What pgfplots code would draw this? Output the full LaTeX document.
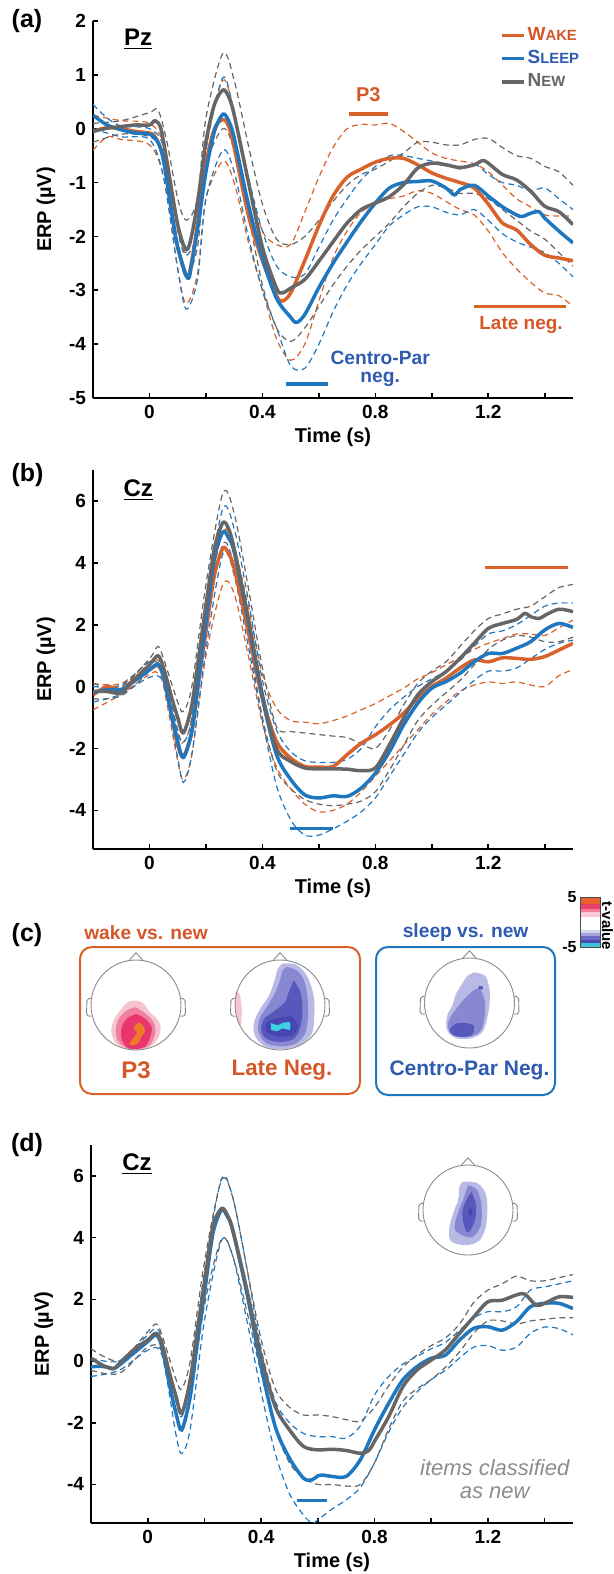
\documentclass[border=0pt]{standalone}
\usepackage{fontspec}
\setmainfont{Liberation Sans}
\usepackage{pgfplots}
\pgfplotsset{compat=1.18}

\definecolor{wake}{HTML}{D9622B}
\definecolor{sleep}{HTML}{1F77C0}
\definecolor{new}{HTML}{666666}
\definecolor{waketxt}{HTML}{D4572A}
\definecolor{sleeptxt}{HTML}{2E5BAF}
\definecolor{itemtxt}{HTML}{8C8C8C}
\definecolor{headc}{HTML}{8A8A8A}
% topography levels
\definecolor{pk1}{HTML}{F6C3D0}
\definecolor{pk2}{HTML}{F0809F}
\definecolor{pk3}{HTML}{E8356E}
\definecolor{pk4}{HTML}{F0782A}
\definecolor{bl1}{HTML}{B9B9E6}
\definecolor{bl2}{HTML}{8888D2}
\definecolor{bl3}{HTML}{5858BC}
\definecolor{bl4}{HTML}{4646B0}
\definecolor{cy}{HTML}{3ED0E0}
% colour bar bands
\definecolor{cb1}{HTML}{EA5F2E}
\definecolor{cb2}{HTML}{E8406A}
\definecolor{cb3}{HTML}{F27A9A}
\definecolor{cb4}{HTML}{F9CAD6}
\definecolor{cb5}{HTML}{D5D5EF}
\definecolor{cb6}{HTML}{A5A5DE}
\definecolor{cb7}{HTML}{6A6AC4}
\definecolor{cb8}{HTML}{4A4AB2}
\definecolor{cb9}{HTML}{3FC4D9}

\pgfplotsset{
  erp/.style={
    scale only axis, width=240pt,
    xmin=-0.2, xmax=1.5,
    axis x line*=bottom, axis y line*=left,
    axis line style={line width=1.1pt, -},
    tick align=inside, major tick length=2.5pt,
    every tick/.style={black, line width=0.8pt},
    xtick={0,0.2,0.4,0.6,0.8,1.0,1.2,1.4},
    xticklabels={0,,0.4,,0.8,,1.2,},
    /pgf/number format/assume math mode=true,
    ticklabel style={font=\fontsize{9.5}{11}\selectfont\bfseries},
    label style={font=\fontsize{10}{12}\selectfont\bfseries},
    xlabel={Time (s)}, ylabel={ERP (µV)},
    x label style={at={(axis description cs:0.5,0)}, anchor=center, yshift=-19.5pt},
    y label style={at={(axis description cs:-0.098,0.5)}, anchor=center},
  },
  mean/.style={line width=1.75pt, smooth, tension=0.5, line join=round},
  ci/.style={line width=0.6pt, dash pattern=on 3pt off 2pt, smooth, tension=0.5, forget plot},
  bar/.style={line width=1.8pt, forget plot},
  topo/.style={scale only axis, hide axis, width=56.25pt, height=56.25pt,
    xmin=-1.25, xmax=1.25, ymin=-1.25, ymax=1.25, clip=false, anchor=center},
  blob/.style={draw=none, smooth, tension=0.55, fill=#1},
  band/.style={draw=none, fill=#1},
}

\newcommand\headoutline{%
  \draw[headc, line width=0.45pt] (axis cs:0,0) circle[radius=22.5pt];
  \draw[headc, line width=0.45pt] (axis cs:-0.16,0.985) -- (axis cs:0,1.16) -- (axis cs:0.16,0.985);
  \draw[headc, line width=0.45pt, rounded corners=1pt] (axis cs:-0.995,0.15) -- (axis cs:-1.09,0.14) -- (axis cs:-1.1,-0.24) -- (axis cs:-0.99,-0.25);
  \draw[headc, line width=0.45pt, rounded corners=1pt] (axis cs:0.995,0.15) -- (axis cs:1.09,0.14) -- (axis cs:1.1,-0.24) -- (axis cs:0.99,-0.25);
}

\begin{document}
\begin{tikzpicture}
\useasboundingbox (0,0) rectangle (307pt,-787pt);

% panel labels
\node[font=\fontsize{12.5}{14}\selectfont\bfseries] at (13.5pt,-10.5pt) {(a)};
\node[font=\fontsize{12.5}{14}\selectfont\bfseries] at (13.75pt,-237.5pt) {(b)};
\node[font=\fontsize{12.5}{14}\selectfont\bfseries] at (13.5pt,-467.5pt) {(c)};
\node[font=\fontsize{12.5}{14}\selectfont\bfseries] at (13.5pt,-572.5pt) {(d)};

%================ (a) Pz
\begin{axis}[erp, at={(46.5pt,-199pt)}, anchor=south west, height=188.5pt,
  ymin=-5, ymax=2, ytick={-5,-4,-3,-2,-1,0,1,2},
  legend style={at={(rel axis cs:1.03,1.0)}, anchor=north east, draw=none, fill=none,
    font=\fontsize{9.5}{11}\selectfont\bfseries, row sep=1.5pt, nodes={inner sep=1pt}},
  legend cell align=left,
  legend image code/.code={\draw[#1, line width=1.75pt] (0pt,0pt) -- (11pt,0pt);},
]
% wake bounds
\addplot[ci, wake] coordinates {(-0.2,0.25)(-0.1,0.15)(0,0.1)(0.05,-0.3)(0.1,-1.8)(0.13,-2.3)(0.17,-1.5)(0.2,-0.25)(0.26,0.9)(0.3,0.3)(0.35,-1.0)(0.4,-1.9)(0.45,-2.15)(0.5,-2.15)(0.55,-1.55)(0.6,-0.9)(0.65,-0.35)(0.7,0.0)(0.75,0.08)(0.8,0.07)(0.85,0.1)(0.9,-0.05)(0.95,-0.25)(1.0,-0.45)(1.05,-0.55)(1.1,-0.6)(1.15,-0.65)(1.2,-0.8)(1.25,-1.05)(1.3,-1.3)(1.35,-1.45)(1.4,-1.6)(1.45,-1.62)(1.5,-1.62)};
\addplot[ci, wake] coordinates {(-0.2,-0.4)(-0.15,-0.15)(-0.1,-0.2)(0,-0.3)(0.05,-0.9)(0.1,-2.6)(0.13,-3.25)(0.17,-2.7)(0.2,-1.3)(0.26,-0.6)(0.3,-1.0)(0.35,-2.1)(0.4,-3.0)(0.45,-3.9)(0.5,-4.3)(0.55,-4.0)(0.6,-3.2)(0.65,-2.4)(0.7,-1.9)(0.75,-1.55)(0.8,-1.4)(0.85,-1.3)(0.9,-1.25)(0.95,-1.15)(1.0,-1.2)(1.05,-1.35)(1.1,-1.5)(1.15,-1.6)(1.2,-1.9)(1.25,-2.3)(1.3,-2.6)(1.35,-2.85)(1.4,-3.05)(1.45,-3.1)(1.5,-3.3)};
% sleep bounds
\addplot[ci, sleep] coordinates {(-0.2,0.45)(-0.15,0.2)(-0.1,0.05)(0,0.0)(0.05,-0.35)(0.1,-1.9)(0.13,-2.35)(0.17,-1.9)(0.2,-0.4)(0.26,0.95)(0.3,0.3)(0.35,-0.9)(0.4,-1.9)(0.45,-2.55)(0.5,-2.75)(0.55,-2.7)(0.6,-2.2)(0.65,-1.7)(0.7,-1.3)(0.75,-0.95)(0.8,-0.7)(0.85,-0.5)(0.9,-0.5)(0.95,-0.55)(1.0,-0.6)(1.05,-0.65)(1.1,-0.75)(1.15,-0.65)(1.2,-0.85)(1.25,-1.0)(1.3,-1.05)(1.35,-1.15)(1.4,-1.1)(1.45,-1.3)(1.5,-1.5)};
\addplot[ci, sleep] coordinates {(-0.2,0.0)(-0.1,-0.15)(0,-0.2)(0.05,-0.9)(0.1,-2.6)(0.13,-3.35)(0.17,-2.8)(0.2,-1.3)(0.26,-0.4)(0.3,-0.8)(0.35,-2.0)(0.4,-3.0)(0.45,-3.7)(0.5,-4.4)(0.55,-4.45)(0.6,-4.0)(0.65,-3.4)(0.7,-2.9)(0.75,-2.5)(0.8,-2.15)(0.85,-1.8)(0.9,-1.6)(0.95,-1.45)(1.0,-1.45)(1.05,-1.55)(1.1,-1.6)(1.15,-1.5)(1.2,-1.7)(1.25,-1.95)(1.3,-2.1)(1.35,-2.2)(1.4,-2.3)(1.45,-2.5)(1.5,-2.75)};
% new bounds
\addplot[ci, new] coordinates {(-0.2,0.1)(-0.1,0.15)(0,0.3)(0.03,0.35)(0.06,-0.2)(0.1,-1.3)(0.13,-1.7)(0.17,-1.3)(0.2,0.2)(0.26,1.4)(0.3,0.9)(0.35,-0.3)(0.4,-1.4)(0.45,-2.05)(0.5,-2.15)(0.55,-2.0)(0.6,-1.7)(0.65,-1.35)(0.7,-1.05)(0.75,-0.85)(0.8,-0.75)(0.85,-0.6)(0.9,-0.45)(0.95,-0.25)(1.0,-0.25)(1.05,-0.3)(1.1,-0.3)(1.15,-0.2)(1.2,-0.18)(1.25,-0.35)(1.3,-0.5)(1.35,-0.55)(1.4,-0.7)(1.45,-0.8)(1.5,-1.05)};
\addplot[ci, new] coordinates {(-0.2,-0.25)(-0.1,-0.1)(0,-0.15)(0.05,-0.5)(0.1,-2.2)(0.13,-2.75)(0.17,-2.2)(0.2,-0.7)(0.26,0.0)(0.3,-0.4)(0.35,-1.6)(0.4,-2.9)(0.45,-3.7)(0.5,-3.95)(0.55,-3.7)(0.6,-3.3)(0.65,-2.9)(0.7,-2.55)(0.75,-2.25)(0.8,-2.0)(0.85,-1.75)(0.9,-1.45)(0.95,-1.2)(1.0,-1.05)(1.05,-1.1)(1.1,-1.2)(1.15,-1.2)(1.2,-1.3)(1.25,-1.5)(1.3,-1.7)(1.35,-1.9)(1.4,-2.05)(1.45,-2.3)(1.5,-2.55)};
% means
\addplot[mean, wake] coordinates {(-0.2,-0.05)(-0.15,0.02)(-0.1,0.0)(-0.05,-0.05)(0,-0.08)(0.02,-0.15)(0.05,-0.55)(0.08,-1.6)(0.1,-2.2)(0.133,-2.75)(0.15,-2.45)(0.175,-1.6)(0.2,-0.65)(0.23,0.0)(0.26,0.17)(0.28,0.05)(0.3,-0.35)(0.35,-1.6)(0.4,-2.45)(0.45,-3.1)(0.47,-3.2)(0.5,-3.05)(0.55,-2.45)(0.6,-1.8)(0.65,-1.25)(0.7,-0.9)(0.75,-0.75)(0.8,-0.62)(0.85,-0.55)(0.9,-0.55)(0.95,-0.67)(1.0,-0.82)(1.05,-0.92)(1.1,-1.0)(1.15,-1.1)(1.2,-1.4)(1.25,-1.75)(1.3,-1.88)(1.35,-2.15)(1.4,-2.35)(1.45,-2.4)(1.5,-2.45)};
\addlegendentry{\textcolor{waketxt}{W{\fontsize{7.4}{8}\selectfont AKE}}}
\addplot[mean, sleep] coordinates {(-0.2,0.25)(-0.15,0.07)(-0.1,-0.02)(-0.05,-0.08)(0,-0.1)(0.03,-0.25)(0.05,-0.6)(0.08,-1.6)(0.1,-2.2)(0.135,-2.78)(0.15,-2.5)(0.175,-1.7)(0.2,-0.8)(0.23,-0.05)(0.26,0.27)(0.28,0.15)(0.3,-0.17)(0.35,-1.4)(0.4,-2.4)(0.45,-3.15)(0.5,-3.5)(0.52,-3.6)(0.55,-3.45)(0.6,-2.95)(0.65,-2.5)(0.7,-2.1)(0.75,-1.72)(0.8,-1.38)(0.85,-1.1)(0.9,-1.0)(0.95,-0.98)(1.0,-0.97)(1.05,-1.1)(1.08,-1.23)(1.1,-1.13)(1.15,-1.05)(1.2,-1.25)(1.25,-1.45)(1.3,-1.6)(1.32,-1.63)(1.35,-1.57)(1.38,-1.54)(1.4,-1.66)(1.45,-1.9)(1.5,-2.12)};
\addlegendentry{\textcolor{sleeptxt}{S{\fontsize{7.4}{8}\selectfont LEEP}}}
\addplot[mean, new] coordinates {(-0.2,-0.05)(-0.15,0.01)(-0.1,0.04)(-0.05,0.07)(0,0.07)(0.02,0.15)(0.04,0.01)(0.06,-0.55)(0.1,-1.78)(0.13,-2.25)(0.15,-1.97)(0.175,-1.2)(0.2,-0.24)(0.23,0.45)(0.26,0.72)(0.28,0.6)(0.3,0.26)(0.35,-0.98)(0.4,-2.2)(0.45,-2.96)(0.47,-3.05)(0.5,-2.96)(0.55,-2.8)(0.6,-2.46)(0.65,-2.1)(0.7,-1.75)(0.75,-1.5)(0.8,-1.38)(0.85,-1.26)(0.9,-1.04)(0.95,-0.73)(1.0,-0.64)(1.05,-0.67)(1.1,-0.72)(1.15,-0.67)(1.18,-0.59)(1.2,-0.64)(1.25,-0.85)(1.3,-0.95)(1.35,-1.16)(1.4,-1.44)(1.45,-1.54)(1.5,-1.78)};
\addlegendentry{\textcolor{new}{N{\fontsize{7.4}{8}\selectfont EW}}}
% significance bars
\addplot[bar, wake] coordinates {(0.707,0.27)(0.846,0.27)};
\addplot[bar, wake] coordinates {(1.15,-3.3)(1.476,-3.3)};
\addplot[bar, sleep] coordinates {(0.482,-4.74)(0.633,-4.74)};
\node[font=\fontsize{12}{14}\selectfont\bfseries] at (axis cs:-0.04,1.66) {\underline{Pz}};
\node[font=\fontsize{10}{12}\selectfont\bfseries, text=waketxt] at (axis cs:0.775,0.63) {P3};
\node[font=\fontsize{9.5}{11}\selectfont\bfseries, text=waketxt] at (axis cs:1.316,-3.64) {Late neg.};
\node[font=\fontsize{9.6}{11}\selectfont\bfseries, text=sleeptxt] at (axis cs:0.817,-4.26) {Centro-Par};
\node[font=\fontsize{9.6}{11}\selectfont\bfseries, text=sleeptxt] at (axis cs:0.817,-4.66) {neg.};
\end{axis}

%================ (b) Cz
\begin{axis}[erp, at={(46.5pt,-424.5pt)}, anchor=south west, height=189.5pt,
  ymin=-5.25, ymax=7, ytick={-4,-2,0,2,4,6}]
\addplot[ci, wake] coordinates {(-0.2,0.1)(-0.1,0.1)(0,0.8)(0.03,0.85)(0.05,0.5)(0.1,-1.5)(0.12,-1.8)(0.15,-1.0)(0.2,2.4)(0.26,5.0)(0.3,4.5)(0.35,2.6)(0.4,0.4)(0.45,-0.7)(0.5,-1.1)(0.55,-1.15)(0.6,-1.2)(0.65,-1.1)(0.7,-0.95)(0.75,-0.75)(0.8,-0.55)(0.85,-0.3)(0.9,-0.05)(0.95,0.25)(1.0,0.45)(1.05,0.7)(1.1,0.95)(1.15,1.2)(1.2,1.4)(1.25,1.55)(1.3,1.7)(1.35,1.7)(1.4,1.65)(1.45,1.9)(1.5,2.15)};
\addplot[ci, wake] coordinates {(-0.2,-0.75)(-0.1,-0.25)(0,0.4)(0.03,0.45)(0.05,0.0)(0.1,-2.4)(0.12,-3.0)(0.15,-2.2)(0.2,1.0)(0.26,3.3)(0.3,3.0)(0.35,1.0)(0.4,-1.2)(0.45,-2.6)(0.5,-3.3)(0.55,-3.8)(0.6,-4.05)(0.65,-4.0)(0.7,-3.8)(0.75,-3.4)(0.8,-2.9)(0.85,-2.4)(0.9,-1.9)(0.95,-1.4)(1.0,-0.9)(1.05,-0.5)(1.1,-0.15)(1.15,0.05)(1.2,0.15)(1.25,0.1)(1.3,0.15)(1.35,0.05)(1.4,0.0)(1.45,0.35)(1.5,0.55)};
\addplot[ci, sleep] coordinates {(-0.2,0.0)(-0.1,0.05)(0,0.8)(0.05,0.5)(0.1,-1.4)(0.12,-1.8)(0.15,-1.0)(0.2,2.8)(0.26,5.75)(0.3,5.1)(0.35,2.8)(0.4,0.2)(0.45,-1.4)(0.5,-2.1)(0.55,-2.4)(0.6,-2.45)(0.65,-2.45)(0.7,-2.35)(0.75,-2.0)(0.8,-1.3)(0.85,-0.75)(0.9,-0.35)(0.95,0.0)(1.0,0.25)(1.05,0.5)(1.1,0.85)(1.15,1.3)(1.2,1.7)(1.25,1.8)(1.3,2.0)(1.35,2.3)(1.4,2.6)(1.45,2.7)(1.5,2.7)};
\addplot[ci, sleep] coordinates {(-0.2,-0.5)(-0.1,-0.25)(0,0.3)(0.05,0.1)(0.1,-2.3)(0.12,-3.1)(0.15,-2.2)(0.2,1.2)(0.26,4.3)(0.3,3.6)(0.35,1.3)(0.4,-1.1)(0.45,-3.2)(0.5,-4.3)(0.55,-4.8)(0.6,-4.8)(0.65,-4.6)(0.7,-4.35)(0.75,-4.05)(0.8,-3.6)(0.85,-2.9)(0.9,-2.2)(0.95,-1.5)(1.0,-1.0)(1.05,-0.6)(1.1,-0.2)(1.15,0.2)(1.2,0.5)(1.25,0.5)(1.3,0.6)(1.35,0.9)(1.4,1.2)(1.45,1.4)(1.5,1.5)};
\addplot[ci, new] coordinates {(-0.2,0.1)(-0.1,0.0)(0,0.9)(0.03,1.3)(0.05,0.9)(0.1,-0.5)(0.12,-0.8)(0.15,0.0)(0.2,3.3)(0.26,6.25)(0.3,5.6)(0.35,3.2)(0.4,0.6)(0.45,-1.3)(0.5,-1.45)(0.55,-1.5)(0.6,-1.55)(0.65,-1.6)(0.7,-1.65)(0.75,-1.85)(0.8,-2.0)(0.85,-1.4)(0.9,-0.6)(0.95,0.1)(1.0,0.5)(1.05,0.8)(1.1,1.3)(1.15,1.8)(1.2,2.2)(1.25,2.35)(1.3,2.5)(1.35,2.6)(1.4,2.9)(1.45,3.2)(1.5,3.3)};
\addplot[ci, new] coordinates {(-0.2,-0.4)(-0.1,-0.3)(0,0.5)(0.03,0.75)(0.05,0.3)(0.1,-1.6)(0.12,-2.2)(0.15,-1.3)(0.2,2.0)(0.26,4.6)(0.3,3.9)(0.35,1.6)(0.4,-1.0)(0.45,-2.7)(0.5,-3.3)(0.55,-3.65)(0.6,-3.8)(0.65,-3.85)(0.7,-3.8)(0.75,-3.7)(0.8,-3.4)(0.85,-2.7)(0.9,-1.9)(0.95,-1.1)(1.0,-0.6)(1.05,-0.2)(1.1,0.2)(1.15,0.7)(1.2,1.2)(1.25,1.5)(1.3,1.65)(1.35,1.6)(1.4,1.45)(1.45,1.45)(1.5,1.6)};
\addplot[mean, wake] coordinates {(-0.2,-0.27)(-0.15,0.0)(-0.1,-0.1)(-0.05,0.27)(0,0.55)(0.03,0.68)(0.05,0.3)(0.08,-1.0)(0.1,-1.9)(0.12,-2.26)(0.15,-1.45)(0.175,0.2)(0.2,1.77)(0.23,3.6)(0.26,4.48)(0.28,4.3)(0.3,3.82)(0.35,1.77)(0.4,-0.38)(0.45,-1.77)(0.5,-2.31)(0.55,-2.58)(0.6,-2.6)(0.65,-2.58)(0.7,-2.2)(0.75,-1.83)(0.8,-1.56)(0.85,-1.24)(0.9,-0.86)(0.95,-0.38)(1.0,0.0)(1.05,0.27)(1.1,0.6)(1.15,0.86)(1.2,0.8)(1.25,0.93)(1.3,0.91)(1.35,0.88)(1.4,0.97)(1.45,1.18)(1.5,1.4)};
\addplot[mean, sleep] coordinates {(-0.2,-0.2)(-0.15,-0.1)(-0.1,-0.1)(-0.05,0.2)(0,0.54)(0.03,0.72)(0.05,0.32)(0.08,-1.0)(0.1,-1.77)(0.12,-2.3)(0.15,-1.45)(0.175,0.3)(0.2,2.1)(0.23,4.14)(0.26,5.0)(0.28,4.8)(0.3,4.35)(0.35,2.1)(0.4,-0.38)(0.45,-2.2)(0.5,-3.0)(0.55,-3.5)(0.6,-3.6)(0.65,-3.53)(0.7,-3.55)(0.75,-3.28)(0.8,-2.8)(0.85,-2.1)(0.9,-1.24)(0.95,-0.54)(1.0,-0.05)(1.05,0.16)(1.1,0.43)(1.15,0.8)(1.2,1.07)(1.25,1.07)(1.3,1.24)(1.35,1.45)(1.4,1.83)(1.45,2.04)(1.5,1.91)};
\addplot[mean, new] coordinates {(-0.2,-0.16)(-0.15,-0.16)(-0.1,-0.2)(-0.05,0.27)(0,0.7)(0.03,1.0)(0.05,0.6)(0.08,-0.4)(0.1,-1.0)(0.12,-1.5)(0.15,-0.6)(0.175,1.0)(0.2,2.63)(0.23,4.46)(0.26,5.3)(0.28,5.1)(0.3,4.46)(0.35,2.2)(0.4,-0.27)(0.45,-2.0)(0.5,-2.42)(0.55,-2.63)(0.6,-2.66)(0.65,-2.66)(0.7,-2.67)(0.75,-2.72)(0.8,-2.63)(0.85,-1.88)(0.9,-1.02)(0.95,-0.27)(1.0,0.16)(1.05,0.48)(1.1,0.91)(1.15,1.4)(1.2,1.88)(1.25,2.04)(1.3,2.17)(1.33,2.37)(1.35,2.26)(1.38,2.2)(1.4,2.3)(1.45,2.5)(1.5,2.42)};
\addplot[bar, wake] coordinates {(1.19,3.85)(1.484,3.85)};
\addplot[bar, sleep] coordinates {(0.497,-4.59)(0.65,-4.59)};
\node[font=\fontsize{12}{14}\selectfont\bfseries] at (axis cs:-0.04,6.35) {\underline{Cz}};
\end{axis}

%================ (c) topographies
\node[font=\fontsize{9.6}{11}\selectfont\bfseries, text=waketxt] at (73pt,-466.5pt) {wake vs. new};
\node[font=\fontsize{9.6}{11}\selectfont\bfseries, text=sleeptxt] at (232.8pt,-466.5pt) {sleep vs. new};
\draw[wake, line width=1pt, rounded corners=6pt] (40pt,-473.5pt) rectangle (180pt,-547pt);
\draw[sleep, line width=1pt, rounded corners=6pt] (188pt,-473.5pt) rectangle (277.5pt,-547.5pt);
\node[font=\fontsize{12}{14}\selectfont\bfseries, text=waketxt] at (68pt,-535pt) {P3};
\node[font=\fontsize{11.2}{13}\selectfont\bfseries, text=waketxt] at (141pt,-535pt) {Late Neg.};
\node[font=\fontsize{10.5}{12}\selectfont\bfseries, text=sleeptxt] at (234.75pt,-535pt) {Centro-Par Neg.};

% P3 map
\begin{axis}[topo, at={(68pt,-502.5pt)}]
\addplot[blob=pk1] coordinates {(-0.05,0.1)(0.15,0.05)(0.3,-0.15)(0.5,-0.35)(0.55,-0.55)(0.45,-0.8)(0.25,-0.96)(0,-0.99)(-0.25,-0.96)(-0.45,-0.85)(-0.55,-0.6)(-0.5,-0.35)(-0.35,-0.12)(-0.2,0.05)(-0.05,0.1)};
\addplot[blob=pk2] coordinates {(-0.02,-0.05)(0.2,-0.18)(0.4,-0.4)(0.42,-0.65)(0.3,-0.9)(0.05,-0.98)(-0.2,-0.96)(-0.4,-0.8)(-0.45,-0.55)(-0.38,-0.3)(-0.2,-0.12)(-0.02,-0.05)};
\addplot[blob=pk3] coordinates {(0.0,-0.2)(0.2,-0.3)(0.35,-0.5)(0.3,-0.75)(0.2,-0.92)(0.0,-0.98)(-0.2,-0.94)(-0.32,-0.75)(-0.32,-0.5)(-0.2,-0.3)(0.0,-0.2)};
\addplot[blob=pk4] coordinates {(0.05,-0.38)(0.15,-0.45)(0.2,-0.58)(0.12,-0.7)(0.05,-0.85)(-0.08,-0.9)(-0.15,-0.85)(-0.05,-0.72)(0.02,-0.62)(-0.05,-0.5)(0.05,-0.38)};
\headoutline
\end{axis}

% Late negativity map
\begin{axis}[topo, at={(140pt,-502.5pt)}]
\addplot[blob=pk1] coordinates {(-0.99,0.3)(-0.9,0.25)(-0.85,-0.1)(-0.87,-0.45)(-0.96,-0.3)(-0.995,0.0)(-0.99,0.3)};
\addplot[blob=bl1] coordinates {(0.05,0.92)(0.35,0.9)(0.6,0.65)(0.75,0.2)(0.76,-0.3)(0.7,-0.65)(0.45,-0.88)(0.1,-0.98)(-0.3,-0.94)(-0.55,-0.7)(-0.58,-0.4)(-0.45,-0.1)(-0.25,0.2)(-0.12,0.55)(-0.05,0.8)(0.05,0.92)};
\addplot[blob=bl2] coordinates {(0.15,0.85)(0.4,0.75)(0.55,0.5)(0.62,0.1)(0.62,-0.3)(0.55,-0.65)(0.35,-0.85)(0.05,-0.92)(-0.3,-0.85)(-0.48,-0.6)(-0.45,-0.3)(-0.3,-0.05)(-0.12,0.25)(0.0,0.55)(0.05,0.75)(0.15,0.85)};
\addplot[blob=bl3] coordinates {(0.3,0.55)(0.45,0.3)(0.5,-0.1)(0.45,-0.5)(0.3,-0.75)(0.0,-0.82)(-0.3,-0.75)(-0.42,-0.55)(-0.35,-0.3)(-0.15,-0.15)(0.1,0.05)(0.2,0.3)(0.3,0.55)};
\addplot[blob=bl4] coordinates {(0.25,-0.25)(0.4,-0.45)(0.3,-0.65)(0.0,-0.7)(-0.3,-0.6)(-0.3,-0.4)(-0.1,-0.3)(0.25,-0.25)};
\addplot[blob=cy, tension=0.3] coordinates {(-0.2,-0.4)(-0.05,-0.45)(0.05,-0.4)(0.22,-0.38)(0.22,-0.55)(0.05,-0.52)(-0.05,-0.58)(-0.2,-0.55)(-0.2,-0.4)};
\headoutline
\end{axis}

% Centro-parietal map
\begin{axis}[topo, at={(234.75pt,-501.5pt)}]
\addplot[blob=bl1] coordinates {(0.1,0.68)(0.35,0.6)(0.45,0.25)(0.42,-0.2)(0.3,-0.62)(0.05,-0.78)(-0.3,-0.78)(-0.5,-0.6)(-0.5,-0.3)(-0.38,-0.05)(-0.3,0.2)(-0.15,0.45)(-0.05,0.6)(0.1,0.68)};
\addplot[blob=bl2] coordinates {(0.22,0.35)(0.34,0.05)(0.33,-0.35)(0.22,-0.65)(-0.1,-0.76)(-0.42,-0.68)(-0.47,-0.42)(-0.33,-0.18)(-0.15,0.05)(0.05,0.25)(0.22,0.35)};
\addplot[blob=bl3] coordinates {(0.1,-0.5)(0.05,-0.72)(-0.3,-0.74)(-0.44,-0.6)(-0.3,-0.46)(-0.05,-0.45)(0.1,-0.5)};
\addplot[blob=bl3] coordinates {(0.22,0.38)(0.3,0.36)(0.28,0.3)(0.2,0.32)(0.22,0.38)};
\headoutline
\end{axis}

% colour bar
\begin{axis}[scale only axis, hide axis, width=10pt, height=25pt, xmin=0, xmax=1, ymin=-5, ymax=5,
  at={(290pt,-473.5pt)}, anchor=south west, clip=false]
\addplot[band=cb1] coordinates {(0,3.6)(1,3.6)(1,5)(0,5)} -- cycle;
\addplot[band=cb2] coordinates {(0,2.6)(1,2.6)(1,3.6)(0,3.6)} -- cycle;
\addplot[band=cb3] coordinates {(0,2.0)(1,2.0)(1,2.6)(0,2.6)} -- cycle;
\addplot[band=cb4] coordinates {(0,1.0)(1,1.0)(1,2.0)(0,2.0)} -- cycle;
\addplot[band=cb5] coordinates {(0,-2.2)(1,-2.2)(1,-1.5)(0,-1.5)} -- cycle;
\addplot[band=cb6] coordinates {(0,-2.8)(1,-2.8)(1,-2.2)(0,-2.2)} -- cycle;
\addplot[band=cb7] coordinates {(0,-3.5)(1,-3.5)(1,-2.8)(0,-2.8)} -- cycle;
\addplot[band=cb8] coordinates {(0,-4.2)(1,-4.2)(1,-3.5)(0,-3.5)} -- cycle;
\addplot[band=cb9] coordinates {(0,-5)(1,-5)(1,-4.2)(0,-4.2)} -- cycle;
\draw[line width=0.5pt, black!70] (rel axis cs:0,0) rectangle (rel axis cs:1,1);
\node[font=\fontsize{8}{9}\selectfont\bfseries, anchor=east, inner sep=1pt] at (rel axis cs:-0.05,1) {5};
\node[font=\fontsize{8}{9}\selectfont\bfseries, anchor=east, inner sep=1pt] at (rel axis cs:-0.05,0) {-5};
\node[font=\fontsize{7.5}{9}\selectfont\bfseries, rotate=-90] at (rel axis cs:1.38,0.42) {t-value};
\end{axis}

%================ (d) Cz, items classified as new
\begin{axis}[erp, at={(45.5pt,-761.5pt)}, anchor=south west, width=241pt, height=189pt,
  ymin=-5.25, ymax=7, ytick={-4,-2,0,2,4,6}]
\addplot[ci, sleep] coordinates {(-0.2,0.1)(-0.1,0.0)(0,0.85)(0.03,1.05)(0.05,0.7)(0.1,-1.3)(0.12,-1.8)(0.15,-0.7)(0.2,2.9)(0.26,5.9)(0.3,5.3)(0.35,3.0)(0.4,0.4)(0.45,-1.3)(0.5,-2.0)(0.55,-2.35)(0.6,-2.45)(0.65,-2.45)(0.7,-2.5)(0.75,-2.1)(0.8,-1.1)(0.85,-0.5)(0.9,-0.1)(0.95,0.15)(1.0,0.4)(1.05,0.6)(1.1,1.0)(1.15,1.4)(1.2,1.6)(1.25,1.6)(1.3,1.75)(1.35,2.3)(1.4,2.4)(1.45,2.5)(1.5,2.6)};
\addplot[ci, sleep] coordinates {(-0.2,-0.5)(-0.1,-0.3)(0,0.35)(0.05,0.2)(0.1,-2.4)(0.12,-3.0)(0.15,-2.2)(0.2,1.3)(0.26,3.9)(0.3,3.4)(0.35,1.3)(0.4,-1.0)(0.45,-3.0)(0.5,-4.3)(0.55,-5.0)(0.58,-5.25)(0.6,-5.15)(0.65,-4.8)(0.7,-4.5)(0.75,-4.1)(0.8,-3.3)(0.85,-2.3)(0.9,-1.5)(0.95,-1.0)(1.0,-0.6)(1.05,-0.3)(1.1,0.1)(1.15,0.45)(1.2,0.5)(1.25,0.35)(1.3,0.45)(1.35,0.9)(1.4,1.1)(1.45,1.05)(1.5,0.85)};
\addplot[ci, new] coordinates {(-0.2,0.4)(-0.1,0.0)(0,0.95)(0.03,1.2)(0.05,0.85)(0.1,-0.6)(0.12,-0.9)(0.15,0.0)(0.2,3.2)(0.26,5.85)(0.3,5.3)(0.35,3.0)(0.4,0.7)(0.45,-0.9)(0.5,-1.5)(0.55,-1.75)(0.6,-1.75)(0.65,-1.8)(0.7,-1.9)(0.75,-1.95)(0.8,-1.5)(0.85,-0.8)(0.9,-0.2)(0.95,0.2)(1.0,0.5)(1.05,0.75)(1.1,1.2)(1.15,1.9)(1.2,2.3)(1.25,2.5)(1.3,2.75)(1.35,2.6)(1.4,2.6)(1.45,2.7)(1.5,2.8)};
\addplot[ci, new] coordinates {(-0.2,-0.3)(-0.1,-0.4)(0,0.45)(0.05,0.3)(0.1,-1.8)(0.12,-2.3)(0.15,-1.3)(0.2,1.8)(0.26,3.95)(0.3,3.4)(0.35,1.6)(0.4,-0.4)(0.45,-2.2)(0.5,-3.3)(0.55,-3.8)(0.6,-4.0)(0.65,-4.0)(0.7,-4.05)(0.75,-4.0)(0.8,-3.3)(0.85,-2.2)(0.9,-1.3)(0.95,-0.9)(1.0,-0.6)(1.05,-0.2)(1.1,0.3)(1.15,0.9)(1.2,1.3)(1.25,1.3)(1.3,1.2)(1.35,1.3)(1.4,1.35)(1.45,1.4)(1.5,1.4)};
\addplot[mean, sleep] coordinates {(-0.2,-0.18)(-0.15,-0.18)(-0.12,-0.24)(-0.1,-0.13)(-0.05,0.25)(0,0.63)(0.03,0.84)(0.05,0.46)(0.08,-0.9)(0.1,-1.7)(0.12,-2.23)(0.15,-1.15)(0.175,0.6)(0.2,2.19)(0.23,4.13)(0.26,4.89)(0.28,4.7)(0.3,4.24)(0.35,2.19)(0.4,-0.18)(0.45,-2.13)(0.5,-3.15)(0.55,-3.8)(0.58,-3.85)(0.6,-3.72)(0.62,-3.7)(0.65,-3.74)(0.7,-3.74)(0.75,-3.2)(0.8,-2.23)(0.85,-1.37)(0.9,-0.61)(0.95,-0.18)(1.0,0.09)(1.05,0.19)(1.1,0.68)(1.15,1.06)(1.2,1.11)(1.25,1.0)(1.3,1.27)(1.35,1.76)(1.4,1.87)(1.45,1.87)(1.5,1.7)};
\addplot[mean, new] coordinates {(-0.2,0.09)(-0.15,-0.18)(-0.12,-0.25)(-0.1,-0.08)(-0.05,0.36)(0,0.68)(0.03,0.9)(0.05,0.57)(0.08,-0.5)(0.1,-1.15)(0.12,-1.7)(0.15,-0.61)(0.175,1.0)(0.2,2.51)(0.23,4.35)(0.26,4.94)(0.28,4.75)(0.3,4.24)(0.35,2.3)(0.4,0.14)(0.45,-1.48)(0.5,-2.23)(0.55,-2.77)(0.6,-2.88)(0.65,-2.86)(0.7,-2.9)(0.75,-2.99)(0.78,-2.9)(0.8,-2.6)(0.85,-1.8)(0.9,-0.83)(0.95,-0.29)(1.0,0.03)(1.05,0.36)(1.1,0.9)(1.15,1.43)(1.2,1.92)(1.25,1.97)(1.3,2.14)(1.33,2.17)(1.37,1.81)(1.4,1.87)(1.45,2.08)(1.5,2.06)};
\addplot[bar, sleep] coordinates {(0.525,-4.52)(0.634,-4.52)};
\node[font=\fontsize{12}{14}\selectfont\bfseries] at (axis cs:-0.038,6.37) {\underline{Cz}};
\node[font=\fontsize{11}{13}\selectfont\itshape, text=itemtxt] at (axis cs:1.224,-3.47) {items classified};
\node[font=\fontsize{11}{13}\selectfont\itshape, text=itemtxt] at (axis cs:1.224,-4.28) {as new};
\end{axis}

% map inset in (d)
\begin{axis}[topo, at={(234pt,-605pt)}]
\addplot[blob=bl1] coordinates {(-0.11,0.63)(0.22,0.59)(0.41,0.3)(0.41,-0.3)(0.26,-0.67)(-0.04,-0.78)(-0.37,-0.7)(-0.42,-0.44)(-0.33,-0.07)(-0.22,0.22)(-0.19,0.52)(-0.11,0.63)};
\addplot[blob=bl2] coordinates {(0.0,0.55)(0.2,0.45)(0.3,0.1)(0.28,-0.35)(0.1,-0.6)(-0.15,-0.55)(-0.3,-0.4)(-0.22,-0.05)(-0.1,0.25)(0.0,0.55)};
\addplot[blob=bl3] coordinates {(0.08,0.4)(0.18,0.1)(0.15,-0.25)(0.0,-0.5)(-0.1,-0.3)(-0.12,0.0)(-0.02,0.25)(0.08,0.4)};
\addplot[blob=bl4] coordinates {(0.05,0.05)(0.1,-0.05)(0.05,-0.15)(0.0,-0.05)(0.05,0.05)};
\headoutline
\end{axis}
\end{tikzpicture}
\end{document}
